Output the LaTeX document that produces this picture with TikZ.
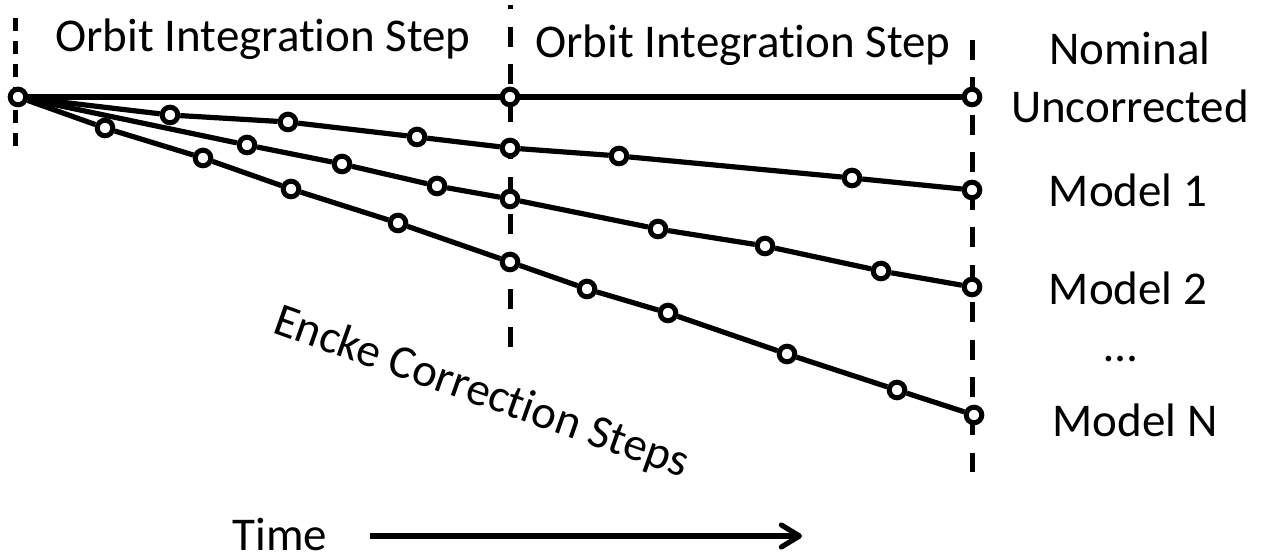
\documentclass[tikz,border=0pt]{standalone}
\usepackage{fontspec}
\setmainfont{Carlito}[Ligatures=NoCommon]
\usetikzlibrary{arrows.meta}
\begin{document}
\begin{tikzpicture}[x=0.5pt,y=-0.5pt,
  pt/.style={circle,draw,fill=white,inner sep=0pt,minimum size=7.8pt,line width=2.5pt},
  lbl/.style={font=\fontsize{23.5}{27}\selectfont,inner sep=0pt,anchor=base},
  sep/.style={line width=2.5pt,dash pattern=on 10pt off 8.75pt},
  sepsmall/.style={line width=2.5pt,dash pattern=on 6.5pt off 5pt},
  traj/.style={line width=2.6pt}]
\useasboundingbox (0,0) rectangle (1261,560);
% separators
\coordinate (l1) at (15,18);
\coordinate (l2) at (15,150);
\coordinate (m1) at (510,347);
\coordinate (m2) at (510,5);
\coordinate (r1) at (972,40);
\coordinate (r2) at (972,472);
\draw[sepsmall] (l1) -- (l2);
\draw[sep] (m1) -- (m2);
\draw[sep] (r1) -- (r2);
% points
\node[pt] (s) at (18,97) {};
\node[pt] (n1) at (510,97) {};
\node[pt] (n2) at (972,97) {};
\node[pt] (a1) at (170,115) {};
\node[pt] (a2) at (288,122) {};
\node[pt] (a3) at (417,137) {};
\node[pt] (a4) at (510,148) {};
\node[pt] (a5) at (619,156) {};
\node[pt] (a6) at (852,178) {};
\node[pt] (a7) at (972,190) {};
\node[pt] (b1) at (247,145) {};
\node[pt] (b2) at (342,164) {};
\node[pt] (b3) at (437,186) {};
\node[pt] (b4) at (510,199) {};
\node[pt] (b5) at (658,229) {};
\node[pt] (b6) at (765,246) {};
\node[pt] (b7) at (881,271) {};
\node[pt] (b8) at (972,287) {};
\node[pt] (c1) at (105,128) {};
\node[pt] (c2) at (203,158) {};
\node[pt] (c3) at (291,189) {};
\node[pt] (c4) at (398,223) {};
\node[pt] (c5) at (510,262) {};
\node[pt] (c6) at (587,289) {};
\node[pt] (c7) at (668,313) {};
\node[pt] (c8) at (787,354) {};
\node[pt] (c9) at (897,390) {};
\node[pt] (c10) at (974,415) {};
% trajectories
\draw[traj] (s) -- (n1) -- (n2);
\draw[traj] (s) -- (a1) -- (a2) -- (a3) -- (a4) -- (a5) -- (a6) -- (a7);
\draw[traj] (s) -- (b1) -- (b2) -- (b3) -- (b4) -- (b5) -- (b6) -- (b7) -- (b8);
\draw[traj] (s) -- (c1) -- (c2) -- (c3) -- (c4) -- (c5) -- (c6) -- (c7) -- (c8) -- (c9) -- (c10);
% labels
\node[lbl] (t1) at (263,52) {Orbit Integration Step};
\node[lbl] (t2) at (743,58) {Orbit Integration Step};
\node[lbl] (nom) at (1130,65) {Nominal};
\node[lbl] (unc) at (1130,123) {Uncorrected};
\node[lbl] (m1l) at (1128,207) {Model 1};
\node[lbl] (m2l) at (1128,305) {Model 2};
\node[lbl] (dots) at (1121,362) {…};
\node[lbl] (mnl) at (1135,437) {Model N};
\node[lbl,rotate=-19.5] (encke) at (477,405) {Encke Correction Steps};
\node[lbl] (time) at (280,550) {Time};
\coordinate (ta) at (370,536);
\coordinate (tb) at (802,536);
\draw[line width=2.6pt,-{Straight Barb[length=9pt,width=11pt,line cap=round,line join=round]}] (ta) -- (tb);
\end{tikzpicture}
\end{document}
